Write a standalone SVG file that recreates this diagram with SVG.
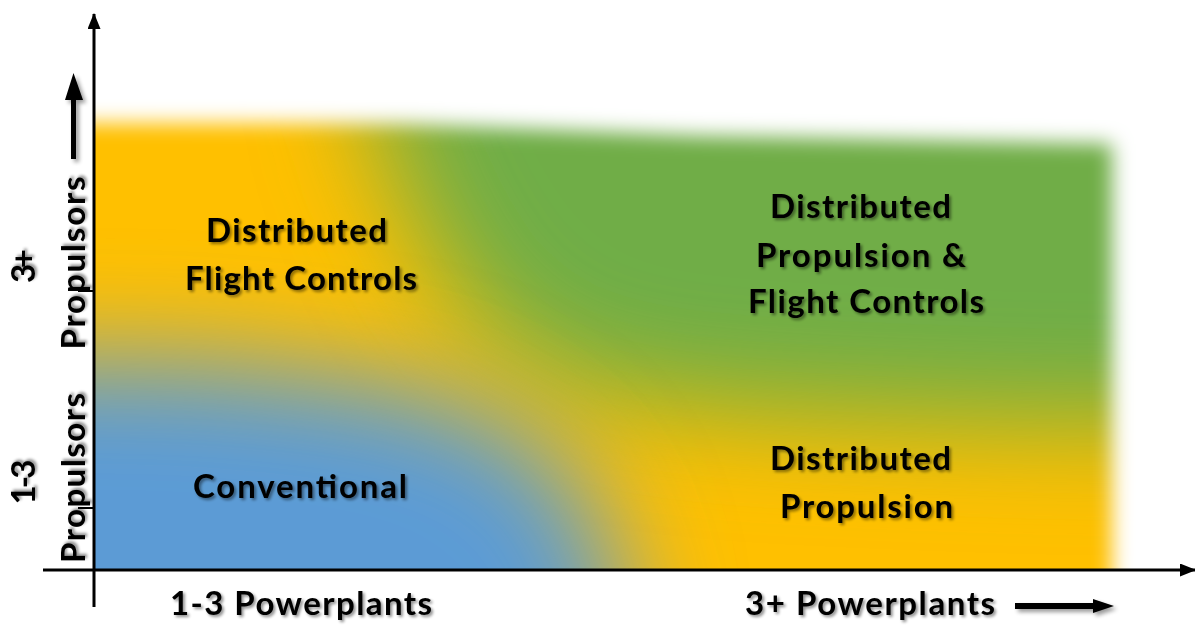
<svg xmlns="http://www.w3.org/2000/svg" width="1195" height="626" viewBox="0 0 1195 626">
<style>
.lbl{font-family:Lato,"Open Sans","Liberation Sans",sans-serif;font-weight:700;font-size:33px;fill:#000;text-anchor:middle;filter:url(#ts)}
.axis{stroke:#000;stroke-width:3;fill:none}
.tick{stroke:#000;stroke-width:2;fill:none}
.bigarrow{fill:#000;filter:url(#as)}
</style>
<defs>
<filter id="blurBig" filterUnits="userSpaceOnUse" x="-400" y="-400" width="2000" height="1500"><feGaussianBlur stdDeviation="55"/></filter>
<filter id="blurEdge" filterUnits="userSpaceOnUse" x="-300" y="-300" width="1800" height="1300"><feGaussianBlur stdDeviation="10"/></filter>
<filter id="ts" x="-10%" y="-40%" width="125%" height="180%"><feGaussianBlur in="SourceAlpha" stdDeviation="1.5"/><feOffset dx="2" dy="2"/><feComponentTransfer><feFuncA type="linear" slope="0.45"/></feComponentTransfer><feMerge><feMergeNode/><feMergeNode in="SourceGraphic"/></feMerge></filter>
<filter id="as" x="-50%" y="-50%" width="200%" height="200%"><feGaussianBlur in="SourceAlpha" stdDeviation="2"/><feOffset dx="3" dy="3"/><feComponentTransfer><feFuncA type="linear" slope="0.4"/></feComponentTransfer><feMerge><feMergeNode/><feMergeNode in="SourceGraphic"/></feMerge></filter>
<mask id="fade" maskUnits="userSpaceOnUse" x="0" y="0" width="1195" height="626">
<polygon points="-100,122 400,124 700,136 1112,144 1112,800 -100,800" fill="#fff" filter="url(#blurEdge)"/>
</mask>
<clipPath id="plot"><rect x="94" y="0" width="1101" height="570"/></clipPath>
<marker id="axhead" viewBox="0 0 16 13" refX="15" refY="6.5" markerWidth="16" markerHeight="13" markerUnits="userSpaceOnUse" orient="auto"><path d="M0,0 L16,6.5 L0,13 z" fill="#000"/></marker>
</defs>

<g id="background" clip-path="url(#plot)">
<g mask="url(#fade)">
<rect x="0" y="0" width="1195" height="626" fill="#FFC000"/>
<polygon fill="#70AD47" filter="url(#blurBig)" points="320,-200 1500,-200 1500,428 1050,424 880,418 720,410 590,392 500,345 440,272 405,200 372,120 340,-200"/>
<polygon fill="#5B9BD5" filter="url(#blurBig)" points="-200,356 200,360 370,378 470,403 540,443 585,493 610,545 625,600 640,800 -200,800"/>
</g>
</g>

<g id="connectors">
<line class="axis" x1="94" y1="607" x2="94" y2="14" marker-end="url(#axhead)"/>
<line class="axis" x1="43" y1="570" x2="1195" y2="570" marker-end="url(#axhead)"/>
<line class="tick" x1="78" y1="291" x2="94" y2="291"/>
<line class="tick" x1="78" y1="508" x2="94" y2="508"/>
<polygon class="bigarrow" points="71,159 76,159 76,100 83,100 73.5,73 65,100 71,100"/>
<polygon class="bigarrow" points="1015,603 1093,603 1093,599 1114,606 1093,613 1093,609 1015,609"/>
</g>

<g id="axis-y-upper">
<text class="lbl" transform="translate(35,266) rotate(-90)" textLength="34">3+</text>
<text class="lbl" transform="translate(85,263) rotate(-90)" textLength="173">Propulsors</text>
</g>
<g id="axis-y-lower">
<text class="lbl" transform="translate(35,482) rotate(-90)" textLength="45">1-3</text>
<text class="lbl" transform="translate(85,478) rotate(-90)" textLength="170">Propulsors</text>
</g>
<g id="axis-x-left">
<text class="lbl" x="301" y="615" textLength="262">1-3 Powerplants</text>
</g>
<g id="axis-x-right">
<text class="lbl" x="870" y="615" textLength="250">3+ Powerplants</text>
</g>

<g id="node-distributed-flight-controls">
<text class="lbl" x="296.5" y="242" textLength="181">Distributed</text>
<text class="lbl" x="301" y="290" textLength="232">Flight Controls</text>
</g>
<g id="node-conventional">
<text class="lbl" x="300" y="498" textLength="214">Conventional</text>
</g>
<g id="node-distributed-propulsion-flight-controls">
<text class="lbl" x="860.5" y="218" textLength="181">Distributed</text>
<text class="lbl" x="861" y="267" textLength="210">Propulsion &amp;</text>
<text class="lbl" x="866" y="313" textLength="236">Flight Controls</text>
</g>
<g id="node-distributed-propulsion">
<text class="lbl" x="860.5" y="470" textLength="181">Distributed</text>
<text class="lbl" x="866.5" y="518" textLength="173">Propulsion</text>
</g>
</svg>
